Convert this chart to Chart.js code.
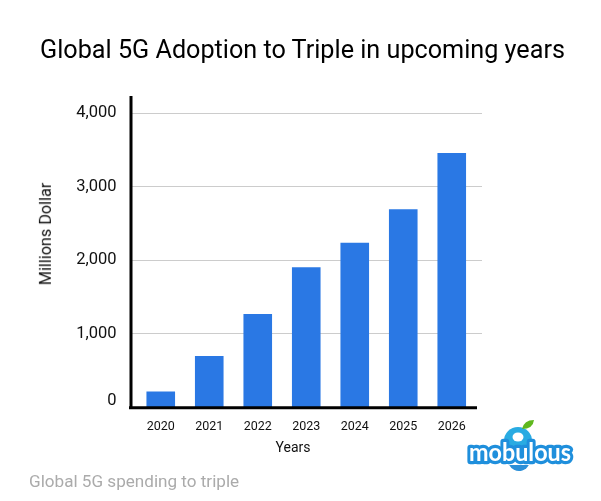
<!DOCTYPE html>
<html><head><meta charset="utf-8">
<script src="https://cdn.jsdelivr.net/npm/chart.js@4/dist/chart.umd.min.js"></script>
<style>
html,body{margin:0;padding:0;background:#fff;overflow:hidden}
#wrap{position:relative;width:601px;height:501px;font-family:Roboto,sans-serif}
canvas{position:absolute;left:0;top:0}
.t{position:absolute;white-space:nowrap;line-height:1}
#title{left:0;width:605px;text-align:center;top:37px;font-size:25.2px;color:#000}
#cap{left:29px;top:473px;font-size:17.1px;color:#ababab}
#ytitle{left:46px;top:234px;font-size:16.2px;color:#111;transform:translate(-50%,-50%) rotate(-90deg)}
#xtitle{left:293px;top:439.5px;font-size:14px;color:#111;transform:translateX(-50%)}
</style></head><body>
<div id="wrap">
<canvas id="c" width="601" height="501"></canvas>
<div class="t" id="title"></div><div class="t" id="cap"></div>
<div class="t" id="ytitle"></div><div class="t" id="xtitle"></div>
</div>
<script>
const titleText = "Global 5G Adoption to Triple in upcoming years";
const captionText = "Global 5G spending to triple";
const yAxisTitle = "Millions Dollar";
const xAxisTitle = "Years";
const years = ["2020","2021","2022","2023","2024","2025","2026"];
const spending = [210,695,1265,1900,2235,2690,3455];
const logoText = "mobulous";

document.getElementById('title').textContent = titleText;
document.getElementById('cap').textContent = captionText;
document.getElementById('ytitle').textContent = yAxisTitle;
document.getElementById('xtitle').textContent = xAxisTitle;

const frame = {
  id:'frame',
  beforeDatasetsDraw(chart){
    const {ctx} = chart, y = chart.scales.y;
    ctx.save(); ctx.strokeStyle='#cccccc'; ctx.lineWidth=1;
    y.ticks.forEach(t=>{
      if(t.value===0) return;
      const p = Math.floor(y.getPixelForValue(t.value))+0.5;
      ctx.beginPath(); ctx.moveTo(132,p); ctx.lineTo(482,p); ctx.stroke();
    });
    ctx.restore();
  },
  afterDatasetsDraw(chart){
    const {ctx} = chart, y = chart.scales.y;
    const base = y.getPixelForValue(0)+0.8;
    ctx.save(); ctx.strokeStyle='#000'; ctx.lineWidth=3;
    ctx.beginPath(); ctx.moveTo(131,96); ctx.lineTo(131,base); ctx.stroke();
    ctx.beginPath(); ctx.moveTo(129,base); ctx.lineTo(477,base); ctx.stroke();
    ctx.restore();
    // logo
    ctx.save();
    ctx.fillStyle='#29abe2';
    ctx.beginPath(); ctx.arc(518,441,14,0,Math.PI*2); ctx.fill();
    ctx.fillStyle='#fff';
    ctx.beginPath(); ctx.ellipse(518,437,5.5,4.5,0,0,Math.PI*2); ctx.fill();
    ctx.fillStyle='#2b8fd8';
    ctx.beginPath(); ctx.arc(519,460,11,0.15*Math.PI,0.85*Math.PI); ctx.closePath(); ctx.fill();
    ctx.fillStyle='#5fb81e';
    ctx.beginPath(); ctx.moveTo(522,429);
    ctx.quadraticCurveTo(524,420,534,420);
    ctx.quadraticCurveTo(533,429,522,429); ctx.fill();
    ctx.font='bold 27px Lato, "Open Sans", sans-serif';
    ctx.textAlign='center'; ctx.textBaseline='alphabetic'; ctx.lineJoin='round';
    ctx.strokeStyle='#1f8fdc'; ctx.lineWidth=7;
    const w = ctx.measureText(logoText).width, sx = 102/w;
    ctx.translate(520,461); ctx.scale(sx,0.92);
    ctx.strokeText(logoText,0,0);
    ctx.fillStyle='#fff'; ctx.fillText(logoText,0,0);
    ctx.restore();
  }
};

new Chart(document.getElementById('c'),{
  type:'bar',
  data:{labels:years,datasets:[{data:spending,backgroundColor:'#2a78e4',borderWidth:0,
    categoryPercentage:1,barPercentage:0.59}]},
  plugins:[frame],
  options:{
    responsive:false,animation:false,devicePixelRatio:1,
    layout:{padding:{top:113,right:125,bottom:0,left:0}},
    plugins:{legend:{display:false},title:{display:false},tooltip:{enabled:false}},
    scales:{
      x:{grid:{display:false},border:{display:false},
        afterFit(s){s.height=94;},
        ticks:{color:'#111',padding:4,maxRotation:0,font:{family:'Roboto',size:12.5}}},
      y:{min:0,max:4000,grid:{display:false,drawTicks:false},border:{display:false},
        afterFit(s){s.width=136.5;},
        ticks:{stepSize:1000,color:'#111',padding:20,font:{family:'Roboto',size:16.5,lineHeight:0.8},
          callback:v=> v===0 ? ['0',''] : v.toLocaleString('en-US')}}
    }
  }
});
</script>
</body></html>
